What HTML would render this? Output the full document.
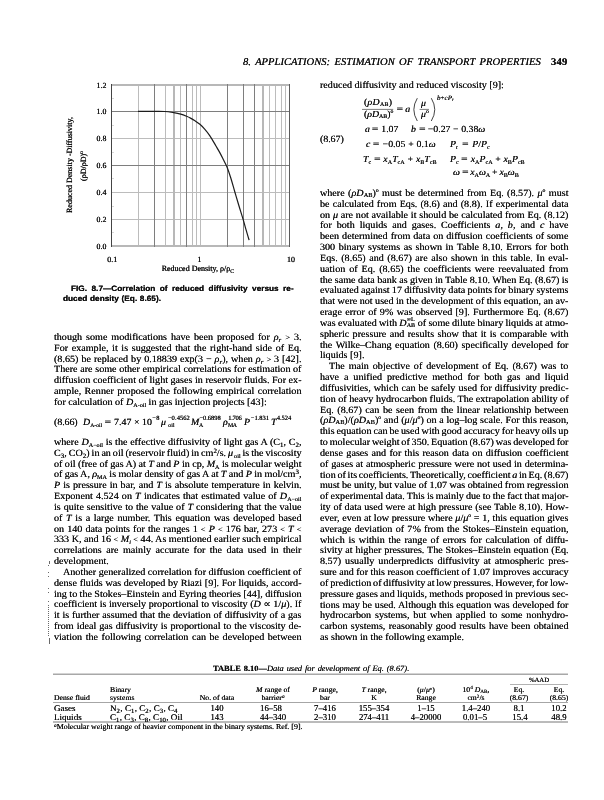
<!DOCTYPE html>
<html lang="en"><head><meta charset="utf-8"><title>Estimation of Transport Properties — page 349</title>
<style>
html,body{margin:0;padding:0;background:#fff;}
body{width:604px;height:800px;position:relative;overflow:hidden;color:#111;text-rendering:geometricPrecision;}
.l{position:absolute;white-space:nowrap;line-height:14px;height:14px;transform-origin:0 0;text-shadow:0 0 0 #111;}
.f{font-family:"Liberation Serif",serif;}
.a{font-family:"Liberation Sans",sans-serif;}
.v{position:absolute;white-space:nowrap;font-size:8px;line-height:10px;height:10px;-webkit-text-stroke:0.1px;text-shadow:0 0 0 #111;transform:translate(-50%,-50%) rotate(-90deg);}
.k{display:inline-block;position:relative;height:0;}
.k span{position:absolute;left:0;line-height:1;font-style:normal;-webkit-text-stroke:0.05px;}
.r{position:relative;line-height:0;-webkit-text-stroke:0.05px;}
.q{display:inline-block;transform:scaleX(1.2);margin:0 0.5px;}
</style></head><body>
<svg width="604" height="800" viewBox="0 0 604 800" style="position:absolute;left:0;top:0">
<g shape-rendering="crispEdges">
<rect x="111" y="138" width="179" height="1" fill="#bcbcbc"/>
<rect x="111" y="192" width="179" height="1" fill="#bcbcbc"/>
<rect x="111" y="219" width="179" height="1" fill="#bcbcbc"/>
<rect x="138" y="84" width="1" height="163" fill="#bcbcbc"/>
<rect x="165" y="84" width="1" height="163" fill="#bcbcbc"/>
<rect x="180" y="84" width="1" height="163" fill="#bcbcbc"/>
<rect x="192" y="84" width="1" height="163" fill="#bcbcbc"/>
<rect x="196" y="84" width="1" height="163" fill="#bcbcbc"/>
<rect x="200" y="84" width="1" height="163" fill="#bcbcbc"/>
<rect x="269" y="84" width="1" height="163" fill="#bcbcbc"/>
<rect x="275" y="84" width="1" height="163" fill="#bcbcbc"/>
<rect x="281" y="84" width="1" height="163" fill="#bcbcbc"/>
<rect x="285" y="84" width="1" height="163" fill="#bcbcbc"/>
<rect x="111" y="84" width="179" height="2" fill="#b8b8b8"/>
<rect x="111" y="245" width="179" height="2" fill="#b8b8b8"/>
<rect x="173" y="84" width="2" height="163" fill="#b8b8b8"/>
<rect x="262" y="84" width="2" height="163" fill="#b8b8b8"/>
<rect x="111" y="111" width="179" height="1" fill="#7e7e7e"/>
<rect x="111" y="165" width="179" height="1" fill="#7e7e7e"/>
<rect x="154" y="84" width="1" height="163" fill="#7e7e7e"/>
<rect x="186" y="84" width="1" height="163" fill="#7e7e7e"/>
<rect x="227" y="84" width="1" height="163" fill="#7e7e7e"/>
<rect x="243" y="84" width="1" height="163" fill="#7e7e7e"/>
<rect x="254" y="84" width="1" height="163" fill="#7e7e7e"/>
<rect x="289" y="84" width="1" height="163" fill="#5c5c5c"/>
<rect x="111" y="84" width="1" height="163" fill="#444"/>
<rect x="112" y="98" width="2" height="1" fill="#d8d8d8"/>
<rect x="112" y="125" width="2" height="1" fill="#d8d8d8"/>
<rect x="112" y="152" width="2" height="1" fill="#d8d8d8"/>
<rect x="112" y="178" width="2" height="1" fill="#d8d8d8"/>
<rect x="112" y="206" width="2" height="1" fill="#d8d8d8"/>
<rect x="112" y="232" width="2" height="1" fill="#d8d8d8"/>
</g>
<path d="M138 111.4C140.33 111.40 147.53 111.38 152 111.4C156.47 111.42 161.18 111.28 164.8 111.5C168.42 111.72 171.05 112.25 173.7 112.7C176.35 113.15 178.55 113.60 180.7 114.2C182.85 114.80 184.97 115.65 186.6 116.3C188.23 116.95 189.10 117.35 190.5 118.1C191.90 118.85 193.43 119.77 195 120.8C196.57 121.83 198.25 122.88 199.9 124.3C201.55 125.72 203.23 127.38 204.9 129.3C206.57 131.22 208.08 133.07 209.9 135.8C211.72 138.53 214.15 142.90 215.8 145.7C217.45 148.50 218.50 150.20 219.8 152.6C221.10 155.00 222.42 157.73 223.6 160.1C224.78 162.47 225.70 163.82 226.9 166.8C228.10 169.78 229.50 173.88 230.8 178C232.10 182.12 233.38 187.00 234.7 191.5C236.02 196.00 237.28 200.32 238.7 205C240.12 209.68 241.98 215.48 243.2 219.6C244.42 223.72 245.02 226.28 246 229.7C246.98 233.12 248.58 238.37 249.1 240.1" fill="none" stroke="#1c1c1c" stroke-width="1.2" stroke-linecap="butt"/>
<path d="M362 109.4H393.2M419.6 109.4H429" stroke="#222" stroke-width="0.6" fill="none"/>
<path d="M417.3 98.2Q410.4 109.6 417.3 121M431.3 98.2Q438.2 109.6 431.3 121" stroke="#222" stroke-width="0.85" fill="none"/>
<path d="M53 674.3H568" stroke="#a8a8a8" stroke-width="1.5" fill="none"/>
<path d="M53 702.5H568" stroke="#808080" stroke-width="0.7" fill="none"/>
<path d="M510 684.5H568" stroke="#909090" stroke-width="0.7" fill="none"/>
<path d="M53 722.0H568" stroke="#777" stroke-width="1" fill="none"/>
<g shape-rendering="crispEdges" fill="#6a6a6a"><rect x="49" y="561" width="1" height="3"/><rect x="49" y="638" width="1" height="6"/><rect x="48" y="565" width="1" height="1"/><rect x="48" y="572" width="1" height="1"/><rect x="48" y="576" width="1" height="1"/><rect x="48" y="588" width="1" height="1"/><rect x="48" y="592" width="1" height="1"/><rect x="48" y="601" width="1" height="1"/><rect x="48" y="605" width="1" height="1"/><rect x="48" y="607" width="1" height="1"/><rect x="48" y="609" width="1" height="1"/><rect x="48" y="611" width="1" height="1"/><rect x="48" y="613" width="1" height="1"/><rect x="48" y="615" width="1" height="1"/><rect x="48" y="617" width="1" height="1"/><rect x="48" y="619" width="1" height="1"/><rect x="48" y="621" width="1" height="1"/><rect x="48" y="623" width="1" height="1"/><rect x="48" y="625" width="1" height="1"/><rect x="48" y="627" width="1" height="1"/><rect x="48" y="629" width="1" height="1"/><rect x="48" y="631" width="1" height="1"/><rect x="48" y="633" width="1" height="1"/><rect x="48" y="635" width="1" height="1"/></g>
</svg>
<div class="l f" style="left:243.30px;top:56.00px;font-size:10.4px;word-spacing:1.685px;-webkit-text-stroke:0.05px;transform:scaleX(1.02);"><i>8. APPLICATIONS: ESTIMATION OF TRANSPORT PROPERTIES</i></div>
<div class="l f" style="left:551.00px;top:56.00px;font-size:10.4px;letter-spacing:0.194px;transform:scaleX(1.02);"><b>349</b></div>
<div class="l f" style="left:54.25px;top:331.00px;font-size:9.6px;word-spacing:1.318px;transform:scaleX(1.055);">though some modifications have been proposed for <i>ρ</i><span class="r" style="font-size:6.6px;top:1.6px;font-style:italic;">r</span> <span style="font-size:8px">&gt;</span> 3.</div>
<div class="l f" style="left:54.25px;top:342.00px;font-size:9.6px;word-spacing:1.025px;transform:scaleX(1.055);">For example, it is suggested that the right-hand side of Eq.</div>
<div class="l f" style="left:54.25px;top:353.00px;font-size:9.6px;word-spacing:0.383px;transform:scaleX(1.055);">(8.65) be replaced by 0.18839 exp(3 − <i>ρ</i><span class="r" style="font-size:6.6px;top:1.6px;font-style:italic;">r</span>), when <i>ρ</i><span class="r" style="font-size:6.6px;top:1.6px;font-style:italic;">r</span> <span style="font-size:8px">&gt;</span> 3 [42].</div>
<div class="l f" style="left:54.25px;top:363.00px;font-size:9.6px;word-spacing:0.088px;transform:scaleX(1.055);">There are some other empirical correlations for estimation of</div>
<div class="l f" style="left:54.25px;top:374.00px;font-size:9.6px;word-spacing:-0.005px;transform:scaleX(1.055);">diffusion coefficient of light gases in reservoir fluids. For ex-</div>
<div class="l f" style="left:54.25px;top:385.00px;font-size:9.6px;word-spacing:0.779px;transform:scaleX(1.055);">ample, Renner proposed the following empirical correlation</div>
<div class="l f" style="left:54.25px;top:396.00px;font-size:9.6px;word-spacing:-0.099px;transform:scaleX(1.055);">for calculation of <i>D</i><span class="r" style="font-size:5.8px;top:2.0px;font-style:normal;">A-oil</span> in gas injection projects [43]:</div>
<div class="l f" style="left:54.25px;top:416.00px;font-size:9.6px;letter-spacing:-0.136px;transform:scaleX(1.055);">(8.66)</div>
<div class="l f" style="left:83.10px;top:416.00px;font-size:9.4px;word-spacing:0.120px;transform:scaleX(1.055);"><i>D</i><span class="r" style="font-size:5.4px;top:2.0px;font-style:normal;">A-oil</span> <span class="q">=</span> 7.47 × 10</div>
<div class="l f" style="left:152.30px;top:412.00px;font-size:6.5px;letter-spacing:0.339px;-webkit-text-stroke:0.05px;">−8</div>
<div class="l f" style="left:161.00px;top:416.00px;font-size:9.4px;transform:scaleX(1.055);"><i>μ</i></div>
<div class="l f" style="left:167.90px;top:412.00px;font-size:6.5px;letter-spacing:0.065px;-webkit-text-stroke:0.05px;">−0.4562</div>
<div class="l f" style="left:168.20px;top:419.00px;font-size:5.8px;letter-spacing:0.092px;-webkit-text-stroke:0.05px;">oil</div>
<div class="l f" style="left:190.60px;top:416.00px;font-size:9.4px;transform:scaleX(1.055);"><i>M</i></div>
<div class="l f" style="left:199.40px;top:412.00px;font-size:6.5px;letter-spacing:-0.05px;-webkit-text-stroke:0.05px;">−0.6898</div>
<div class="l f" style="left:199.00px;top:419.00px;font-size:5.8px;-webkit-text-stroke:0.05px;">A</div>
<div class="l f" style="left:223.40px;top:416.00px;font-size:9.4px;transform:scaleX(1.055);"><i>ρ</i></div>
<div class="l f" style="left:228.20px;top:412.00px;font-size:6.5px;letter-spacing:-0.245px;-webkit-text-stroke:0.05px;">1.706</div>
<div class="l f" style="left:228.00px;top:419.00px;font-size:5.8px;letter-spacing:-0.472px;-webkit-text-stroke:0.05px;">MA</div>
<div class="l f" style="left:243.80px;top:416.00px;font-size:9.4px;transform:scaleX(1.055);"><i>P</i></div>
<div class="l f" style="left:250.80px;top:412.00px;font-size:6.5px;letter-spacing:-0.016px;-webkit-text-stroke:0.05px;">−1.831</div>
<div class="l f" style="left:271.00px;top:416.00px;font-size:9.4px;transform:scaleX(1.055);"><i>T</i></div>
<div class="l f" style="left:276.80px;top:412.00px;font-size:6.5px;letter-spacing:-0.065px;-webkit-text-stroke:0.05px;">4.524</div>
<div class="l f" style="left:54.25px;top:436.00px;font-size:9.6px;word-spacing:0.120px;transform:scaleX(1.055);">where <i>D</i><span class="r" style="font-size:5.8px;top:2.0px;font-style:normal;">A−oil</span> is the effective diffusivity of light gas A (C<span class="r" style="font-size:6.6px;top:2.0px;font-style:normal;">1</span>, C<span class="r" style="font-size:6.6px;top:2.0px;font-style:normal;">2</span>,</div>
<div class="l f" style="left:54.25px;top:447.00px;font-size:9.6px;word-spacing:-0.561px;transform:scaleX(1.055);">C<span class="r" style="font-size:6.6px;top:2.0px;font-style:normal;">3</span>, CO<span class="r" style="font-size:6.6px;top:2.0px;font-style:normal;">2</span>) in an oil (reservoir fluid) in cm<span class="r" style="font-size:6.6px;top:-3.4px;font-style:normal;">2</span>/s. <i>μ</i><span class="r" style="font-size:5.8px;top:1.6px;font-style:normal;"> oil</span> is the viscosity</div>
<div class="l f" style="left:54.25px;top:458.00px;font-size:9.6px;word-spacing:-0.131px;transform:scaleX(1.055);">of oil (free of gas A) at <i>T</i> and <i>P</i> in cp, <i>M</i><span class="r" style="font-size:5.8px;top:1.6px;font-style:normal;">A</span> is molecular weight</div>
<div class="l f" style="left:54.25px;top:468.00px;font-size:9.6px;word-spacing:-0.170px;transform:scaleX(1.055);">of gas A, <i>ρ</i><span class="r" style="font-size:5.8px;top:1.6px;font-style:normal;">MA</span> is molar density of gas A at <i>T</i> and <i>P</i> in mol/cm<span class="r" style="font-size:6.6px;top:-3.4px;font-style:normal;">3</span>,</div>
<div class="l f" style="left:54.25px;top:479.00px;font-size:9.6px;word-spacing:0.456px;transform:scaleX(1.055);"><i>P</i> is pressure in bar, and <i>T</i> is absolute temperature in kelvin.</div>
<div class="l f" style="left:54.25px;top:490.00px;font-size:9.6px;word-spacing:0.575px;transform:scaleX(1.055);">Exponent 4.524 on <i>T</i> indicates that estimated value of <i>D</i><span class="r" style="font-size:5.8px;top:2.0px;font-style:normal;">A−oil</span></div>
<div class="l f" style="left:54.25px;top:501.00px;font-size:9.6px;word-spacing:0.372px;transform:scaleX(1.055);">is quite sensitive to the value of <i>T</i> considering that the value</div>
<div class="l f" style="left:54.25px;top:512.00px;font-size:9.6px;word-spacing:1.033px;transform:scaleX(1.055);">of <i>T</i> is a large number. This equation was developed based</div>
<div class="l f" style="left:54.25px;top:523.00px;font-size:9.6px;word-spacing:0.481px;transform:scaleX(1.055);">on 140 data points for the ranges 1 <span style="font-size:8px">&lt;</span> <i>P</i> <span style="font-size:8px">&lt;</span> 176 bar, 273 <span style="font-size:8px">&lt;</span> <i>T</i> <span style="font-size:8px">&lt;</span></div>
<div class="l f" style="left:54.25px;top:533.00px;font-size:9.6px;word-spacing:-0.080px;transform:scaleX(1.055);">333 K, and 16 <span style="font-size:8px">&lt;</span> <i>M</i><span class="r" style="font-size:5.8px;top:1.6px;font-style:italic;">i</span> <span style="font-size:8px">&lt;</span> 44. As mentioned earlier such empirical</div>
<div class="l f" style="left:54.25px;top:544.00px;font-size:9.6px;word-spacing:1.766px;transform:scaleX(1.055);">correlations are mainly accurate for the data used in their</div>
<div class="l f" style="left:54.25px;top:555.00px;font-size:9.6px;transform:scaleX(1.055);">development.</div>
<div class="l f" style="left:63.25px;top:566.00px;font-size:9.6px;word-spacing:-0.002px;transform:scaleX(1.055);">Another generalized correlation for diffusion coefficient of</div>
<div class="l f" style="left:54.25px;top:577.00px;font-size:9.6px;word-spacing:0.105px;transform:scaleX(1.055);">dense fluids was developed by Riazi [9]. For liquids, accord-</div>
<div class="l f" style="left:54.25px;top:588.00px;font-size:9.6px;word-spacing:-0.130px;transform:scaleX(1.055);">ing to the Stokes–Einstein and Eyring theories [44], diffusion</div>
<div class="l f" style="left:54.25px;top:598.00px;font-size:9.6px;word-spacing:0.035px;transform:scaleX(1.055);">coefficient is inversely proportional to viscosity (<i>D</i> ∝ 1/<i>μ</i>). If</div>
<div class="l f" style="left:54.25px;top:609.00px;font-size:9.6px;word-spacing:0.246px;transform:scaleX(1.055);">it is further assumed that the deviation of diffusivity of a gas</div>
<div class="l f" style="left:54.25px;top:620.00px;font-size:9.6px;word-spacing:0.417px;transform:scaleX(1.055);">from ideal gas diffusivity is proportional to the viscosity de-</div>
<div class="l f" style="left:54.25px;top:631.00px;font-size:9.6px;word-spacing:0.974px;transform:scaleX(1.055);">viation the following correlation can be developed between</div>
<div class="l f" style="left:319.50px;top:79.00px;font-size:9.6px;word-spacing:-0.003px;transform:scaleX(1.055);">reduced diffusivity and reduced viscosity [9]:</div>
<div class="l f" style="left:319.50px;top:187.00px;font-size:9.6px;word-spacing:0.788px;transform:scaleX(1.055);">where (<i>ρ</i><i>D</i><span class="r" style="font-size:6.0px;top:1.2px;font-style:normal;">AB</span>)<span class="r" style="font-size:5.5px;top:-3.6px;font-style:normal;">o</span> must be determined from Eq. (8.57). <i>μ</i><span class="r" style="font-size:5.5px;top:-3.6px;font-style:normal;">o</span> must</div>
<div class="l f" style="left:319.50px;top:198.00px;font-size:9.6px;word-spacing:0.569px;transform:scaleX(1.055);">be calculated from Eqs. (8.6) and (8.8). If experimental data</div>
<div class="l f" style="left:319.50px;top:209.00px;font-size:9.6px;word-spacing:0.217px;transform:scaleX(1.055);">on <i>μ</i> are not available it should be calculated from Eq. (8.12)</div>
<div class="l f" style="left:319.50px;top:219.00px;font-size:9.6px;word-spacing:2.281px;transform:scaleX(1.055);">for both liquids and gases. Coefficients <i>a</i>, <i>b</i>, and <i>c</i> have</div>
<div class="l f" style="left:319.50px;top:230.00px;font-size:9.6px;word-spacing:0.447px;transform:scaleX(1.055);">been determined from data on diffusion coefficients of some</div>
<div class="l f" style="left:319.50px;top:241.00px;font-size:9.6px;word-spacing:0.936px;transform:scaleX(1.055);">300 binary systems as shown in Table 8.10. Errors for both</div>
<div class="l f" style="left:319.50px;top:252.00px;font-size:9.6px;word-spacing:0.946px;transform:scaleX(1.055);">Eqs. (8.65) and (8.67) are also shown in this table. In eval-</div>
<div class="l f" style="left:319.50px;top:263.00px;font-size:9.6px;word-spacing:1.295px;transform:scaleX(1.055);">uation of Eq. (8.65) the coefficients were reevaluated from</div>
<div class="l f" style="left:319.50px;top:274.00px;font-size:9.6px;word-spacing:-0.136px;transform:scaleX(1.055);">the same data bank as given in Table 8.10. When Eq. (8.67) is</div>
<div class="l f" style="left:319.50px;top:284.00px;font-size:9.6px;word-spacing:-0.311px;transform:scaleX(1.055);">evaluated against 17 diffusivity data points for binary systems</div>
<div class="l f" style="left:319.50px;top:295.00px;font-size:9.6px;word-spacing:-0.095px;transform:scaleX(1.055);">that were not used in the development of this equation, an av-</div>
<div class="l f" style="left:319.50px;top:306.00px;font-size:9.6px;word-spacing:0.715px;transform:scaleX(1.055);">erage error of 9% was observed [9]. Furthermore Eq. (8.67)</div>
<div class="l f" style="left:319.50px;top:317.00px;font-size:9.6px;word-spacing:-0.253px;transform:scaleX(1.055);">was evaluated with <i>D</i><span class="k" style="width:8.4px"><span style="font-size:5.8px;top:-7.57px">∞L</span><span style="font-size:5.8px;top:-1.57px">AB</span></span> of some dilute binary liquids at atmo-</div>
<div class="l f" style="left:319.50px;top:328.00px;font-size:9.6px;word-spacing:0.800px;transform:scaleX(1.055);">spheric pressure and results show that it is comparable with</div>
<div class="l f" style="left:319.50px;top:339.00px;font-size:9.6px;word-spacing:0.942px;transform:scaleX(1.055);">the Wilke–Chang equation (8.60) specifically developed for</div>
<div class="l f" style="left:319.50px;top:349.00px;font-size:9.6px;transform:scaleX(1.055);">liquids [9].</div>
<div class="l f" style="left:328.70px;top:360.00px;font-size:9.6px;word-spacing:1.314px;transform:scaleX(1.055);">The main objective of development of Eq. (8.67) was to</div>
<div class="l f" style="left:319.50px;top:371.00px;font-size:9.6px;word-spacing:2.222px;transform:scaleX(1.055);">have a unified predictive method for both gas and liquid</div>
<div class="l f" style="left:319.50px;top:382.00px;font-size:9.6px;word-spacing:0.480px;transform:scaleX(1.055);">diffusivities, which can be safely used for diffusivity predic-</div>
<div class="l f" style="left:319.50px;top:393.00px;font-size:9.6px;word-spacing:-0.008px;transform:scaleX(1.055);">tion of heavy hydrocarbon fluids. The extrapolation ability of</div>
<div class="l f" style="left:319.50px;top:404.00px;font-size:9.6px;word-spacing:0.982px;transform:scaleX(1.055);">Eq. (8.67) can be seen from the linear relationship between</div>
<div class="l f" style="left:319.50px;top:414.00px;font-size:9.6px;word-spacing:0.140px;transform:scaleX(1.055);">(<i>ρ</i><i>D</i><span class="r" style="font-size:6.0px;top:1.2px;font-style:normal;">AB</span>)/(<i>ρ</i><i>D</i><span class="r" style="font-size:6.0px;top:1.2px;font-style:normal;">AB</span>)<span class="r" style="font-size:5.5px;top:-3.6px;font-style:normal;">o</span> and (<i>μ</i>/<i>μ</i><span class="r" style="font-size:5.5px;top:-3.6px;font-style:normal;">o</span>) on a log–log scale. For this reason,</div>
<div class="l f" style="left:319.50px;top:425.00px;font-size:9.6px;word-spacing:-0.506px;transform:scaleX(1.055);">this equation can be used with good accuracy for heavy oils up</div>
<div class="l f" style="left:319.50px;top:436.00px;font-size:9.6px;word-spacing:-0.679px;transform:scaleX(1.055);">to molecular weight of 350. Equation (8.67) was developed for</div>
<div class="l f" style="left:319.50px;top:447.00px;font-size:9.6px;word-spacing:0.724px;transform:scaleX(1.055);">dense gases and for this reason data on diffusion coefficient</div>
<div class="l f" style="left:319.50px;top:458.00px;font-size:9.6px;word-spacing:0.212px;transform:scaleX(1.055);">of gases at atmospheric pressure were not used in determina-</div>
<div class="l f" style="left:319.50px;top:469.00px;font-size:9.6px;word-spacing:-0.788px;transform:scaleX(1.055);">tion of its coefficients. Theoretically, coefficient <i>a</i> in Eq. (8.67)</div>
<div class="l f" style="left:319.50px;top:479.00px;font-size:9.6px;word-spacing:-0.150px;transform:scaleX(1.055);">must be unity, but value of 1.07 was obtained from regression</div>
<div class="l f" style="left:319.50px;top:490.00px;font-size:9.6px;word-spacing:-0.399px;transform:scaleX(1.055);">of experimental data. This is mainly due to the fact that major-</div>
<div class="l f" style="left:319.50px;top:501.00px;font-size:9.6px;word-spacing:0.202px;transform:scaleX(1.055);">ity of data used were at high pressure (see Table 8.10). How-</div>
<div class="l f" style="left:319.50px;top:512.00px;font-size:9.6px;word-spacing:0.088px;transform:scaleX(1.055);">ever, even at low pressure where <i>μ</i>/<i>μ</i><span class="r" style="font-size:5.5px;top:-3.6px;font-style:normal;">o</span> = 1, this equation gives</div>
<div class="l f" style="left:319.50px;top:523.00px;font-size:9.6px;word-spacing:0.689px;transform:scaleX(1.055);">average deviation of 7% from the Stokes–Einstein equation,</div>
<div class="l f" style="left:319.50px;top:534.00px;font-size:9.6px;word-spacing:1.087px;transform:scaleX(1.055);">which is within the range of errors for calculation of diffu-</div>
<div class="l f" style="left:319.50px;top:544.00px;font-size:9.6px;word-spacing:0.292px;transform:scaleX(1.055);">sivity at higher pressures. The Stokes–Einstein equation (Eq.</div>
<div class="l f" style="left:319.50px;top:555.00px;font-size:9.6px;word-spacing:1.409px;transform:scaleX(1.055);">8.57) usually underpredicts diffusivity at atmospheric pres-</div>
<div class="l f" style="left:319.50px;top:566.00px;font-size:9.6px;word-spacing:-0.153px;transform:scaleX(1.055);">sure and for this reason coefficient of 1.07 improves accuracy</div>
<div class="l f" style="left:319.50px;top:577.00px;font-size:9.6px;word-spacing:-0.676px;transform:scaleX(1.055);">of prediction of diffusivity at low pressures. However, for low-</div>
<div class="l f" style="left:319.50px;top:588.00px;font-size:9.6px;word-spacing:-0.299px;transform:scaleX(1.055);">pressure gases and liquids, methods proposed in previous sec-</div>
<div class="l f" style="left:319.50px;top:599.00px;font-size:9.6px;word-spacing:0.177px;transform:scaleX(1.055);">tions may be used. Although this equation was developed for</div>
<div class="l f" style="left:319.50px;top:609.00px;font-size:9.6px;word-spacing:1.218px;transform:scaleX(1.055);">hydrocarbon systems, but when applied to some nonhydro-</div>
<div class="l f" style="left:319.50px;top:620.00px;font-size:9.6px;word-spacing:0.689px;transform:scaleX(1.055);">carbon systems, reasonably good results have been obtained</div>
<div class="l f" style="left:319.50px;top:631.00px;font-size:9.6px;word-spacing:0.033px;transform:scaleX(1.055);">as shown in the following example.</div>
<div class="l f" style="left:363.60px;top:96.00px;font-size:9.3px;letter-spacing:0.273px;transform:scaleX(1.055);">(<i>ρ</i><i>D</i><span class="r" style="font-size:5.6px;top:1.3px;font-style:normal;">AB</span>)</div>
<div class="l f" style="left:363.60px;top:108.00px;font-size:9.3px;letter-spacing:0.004px;transform:scaleX(1.055);">(<i>ρ</i><i>D</i><span class="r" style="font-size:5.6px;top:1.3px;font-style:normal;">AB</span>)<span class="r" style="font-size:5.5px;top:-3.6px;font-style:normal;">o</span></div>
<div class="l f" style="left:395.80px;top:103.00px;font-size:9.3px;word-spacing:0.225px;transform:scaleX(1.055);"><span class="q">=</span> <i>a</i></div>
<div class="l f" style="left:420.90px;top:97.00px;font-size:9.3px;transform:scaleX(1.055);"><i>μ</i></div>
<div class="l f" style="left:420.50px;top:108.00px;font-size:9.3px;letter-spacing:0.081px;transform:scaleX(1.055);"><i>μ</i><span class="r" style="font-size:5.5px;top:-3.6px;font-style:normal;">o</span></div>
<div class="l f" style="left:436.60px;top:92.00px;font-size:6.7px;letter-spacing:0.01px;transform:scaleX(1.055);"><i>b</i>+<i>cP</i><span class="r" style="font-size:4.8px;top:1.2px;font-style:italic;">r</span></div>
<div class="l f" style="left:365.20px;top:123.00px;font-size:9.3px;word-spacing:-0.085px;transform:scaleX(1.055);"><i>a</i> <span class="q">=</span> 1.07</div>
<div class="l f" style="left:411.30px;top:123.00px;font-size:9.3px;word-spacing:0.154px;transform:scaleX(1.055);"><i>b</i> <span class="q">=</span> −0.27 − 0.38<i>ω</i></div>
<div class="l f" style="left:319.50px;top:133.00px;font-size:9.6px;letter-spacing:-0.121px;transform:scaleX(1.055);">(8.67)</div>
<div class="l f" style="left:366.20px;top:138.00px;font-size:9.3px;word-spacing:0.353px;transform:scaleX(1.055);"><i>c</i> <span class="q">=</span> −0.05 + 0.1<i>ω</i></div>
<div class="l f" style="left:450.20px;top:138.00px;font-size:9.3px;word-spacing:1.323px;transform:scaleX(1.055);"><i>P</i><span class="r" style="font-size:5.8px;top:1.6px;font-style:normal;">r</span> <span class="q">=</span> <i>P</i>/<i>P</i><span class="r" style="font-size:5.8px;top:1.6px;font-style:normal;">c</span></div>
<div class="l f" style="left:362.65px;top:153.00px;font-size:9.3px;word-spacing:0.324px;transform:scaleX(1.055);"><i>T</i><span class="r" style="font-size:5.8px;top:1.6px;font-style:normal;">c</span> <span class="q">=</span> <i>x</i><span class="r" style="font-size:5.8px;top:1.6px;font-style:normal;">A</span><i>T</i><span class="r" style="font-size:5.8px;top:1.6px;font-style:normal;">cA</span> + <i>x</i><span class="r" style="font-size:5.8px;top:1.6px;font-style:normal;">B</span><i>T</i><span class="r" style="font-size:5.8px;top:1.6px;font-style:normal;">cB</span></div>
<div class="l f" style="left:450.20px;top:153.00px;font-size:9.3px;word-spacing:0.198px;transform:scaleX(1.055);"><i>P</i><span class="r" style="font-size:5.8px;top:1.6px;font-style:normal;">c</span> <span class="q">=</span> <i>x</i><span class="r" style="font-size:5.8px;top:1.6px;font-style:normal;">A</span><i>P</i><span class="r" style="font-size:5.8px;top:1.6px;font-style:normal;">cA</span> + <i>x</i><span class="r" style="font-size:5.8px;top:1.6px;font-style:normal;">B</span><i>P</i><span class="r" style="font-size:5.8px;top:1.6px;font-style:normal;">cB</span></div>
<div class="l f" style="left:452.80px;top:166.00px;font-size:9.3px;word-spacing:-0.622px;transform:scaleX(1.055);"><i>ω</i> <span class="q">=</span> <i>x</i><span class="r" style="font-size:5.8px;top:1.6px;font-style:normal;">A</span><i>ω</i><span class="r" style="font-size:5.8px;top:1.6px;font-style:normal;">A</span> + <i>x</i><span class="r" style="font-size:5.8px;top:1.6px;font-style:normal;">B</span><i>ω</i><span class="r" style="font-size:5.8px;top:1.6px;font-style:normal;">B</span></div>
<div class="l f" style="left:106.40px;top:79.00px;font-size:7.9px;-webkit-text-stroke:0.1px;transform-origin:100% 0;transform:translateX(-100%) scaleX(1.0);">1.2</div>
<div class="l f" style="left:106.40px;top:105.00px;font-size:7.9px;-webkit-text-stroke:0.1px;transform-origin:100% 0;transform:translateX(-100%) scaleX(1.0);">1.0</div>
<div class="l f" style="left:106.40px;top:132.00px;font-size:7.9px;-webkit-text-stroke:0.1px;transform-origin:100% 0;transform:translateX(-100%) scaleX(1.0);">0.8</div>
<div class="l f" style="left:106.40px;top:159.00px;font-size:7.9px;-webkit-text-stroke:0.1px;transform-origin:100% 0;transform:translateX(-100%) scaleX(1.0);">0.6</div>
<div class="l f" style="left:106.40px;top:186.00px;font-size:7.9px;-webkit-text-stroke:0.1px;transform-origin:100% 0;transform:translateX(-100%) scaleX(1.0);">0.4</div>
<div class="l f" style="left:106.40px;top:213.00px;font-size:7.9px;-webkit-text-stroke:0.1px;transform-origin:100% 0;transform:translateX(-100%) scaleX(1.0);">0.2</div>
<div class="l f" style="left:106.40px;top:240.00px;font-size:7.9px;-webkit-text-stroke:0.1px;transform-origin:100% 0;transform:translateX(-100%) scaleX(1.0);">0.0</div>
<div class="l f" style="left:112.30px;top:253.00px;font-size:7.9px;-webkit-text-stroke:0.1px;transform-origin:50% 0;transform:translateX(-50%) scaleX(1.0);">0.1</div>
<div class="l f" style="left:199.60px;top:253.00px;font-size:7.9px;-webkit-text-stroke:0.1px;transform-origin:50% 0;transform:translateX(-50%) scaleX(1.0);">1</div>
<div class="l f" style="left:291.00px;top:253.00px;font-size:7.9px;-webkit-text-stroke:0.1px;transform-origin:50% 0;transform:translateX(-50%) scaleX(1.0);">10</div>
<div class="l f" style="left:197.90px;top:262.00px;font-size:8.0px;-webkit-text-stroke:0.1px;transform-origin:50% 0;transform:translateX(-50%) scaleX(1.0);">Reduced Density, ρ/ρ<span class="r" style="font-size:5.8px;top:1.8px;font-style:normal;">C</span></div>
<div class="l a" style="left:71.10px;top:282.00px;font-size:7.8px;word-spacing:2.013px;-webkit-text-stroke:0.05px;transform:scaleX(1.06);"><b>FIG. 8.7—Correlation of reduced diffusivity versus re-</b></div>
<div class="l a" style="left:62.50px;top:292.00px;font-size:7.8px;word-spacing:0.344px;-webkit-text-stroke:0.05px;transform:scaleX(1.06);"><b>duced density (Eq. 8.65).</b></div>
<div class="l f" style="left:213.00px;top:662.00px;font-size:8.1px;word-spacing:0.739px;transform:scaleX(1.04);"><b>TABLE 8.10—</b><i>Data used for development of Eq. (8.67).</i></div>
<div class="l f" style="left:53.75px;top:691.00px;font-size:7.3px;word-spacing:0.043px;-webkit-text-stroke:0.05px;transform:scaleX(1.055);">Dense fluid</div>
<div class="l f" style="left:110.00px;top:683.00px;font-size:7.3px;-webkit-text-stroke:0.05px;transform:scaleX(1.055);">Binary</div>
<div class="l f" style="left:110.00px;top:691.00px;font-size:7.3px;-webkit-text-stroke:0.05px;transform:scaleX(1.055);">systems</div>
<div class="l f" style="left:217.00px;top:691.00px;font-size:7.3px;-webkit-text-stroke:0.05px;transform-origin:50% 0;transform:translateX(-50%) scaleX(1.055);">No. of data</div>
<div class="l f" style="left:273.25px;top:683.00px;font-size:7.3px;-webkit-text-stroke:0.05px;transform-origin:50% 0;transform:translateX(-50%) scaleX(1.055);"><i>M</i> range of</div>
<div class="l f" style="left:273.25px;top:691.00px;font-size:7.3px;-webkit-text-stroke:0.05px;transform-origin:50% 0;transform:translateX(-50%) scaleX(1.055);">barrier<span class="r" style="font-size:5px;top:-2.4px;font-style:italic;">a</span></div>
<div class="l f" style="left:325.00px;top:683.00px;font-size:7.3px;-webkit-text-stroke:0.05px;transform-origin:50% 0;transform:translateX(-50%) scaleX(1.055);"><i>P</i> range,</div>
<div class="l f" style="left:325.00px;top:691.00px;font-size:7.3px;-webkit-text-stroke:0.05px;transform-origin:50% 0;transform:translateX(-50%) scaleX(1.055);">bar</div>
<div class="l f" style="left:373.75px;top:683.00px;font-size:7.3px;-webkit-text-stroke:0.05px;transform-origin:50% 0;transform:translateX(-50%) scaleX(1.055);"><i>T</i> range,</div>
<div class="l f" style="left:373.75px;top:691.00px;font-size:7.3px;-webkit-text-stroke:0.05px;transform-origin:50% 0;transform:translateX(-50%) scaleX(1.055);">K</div>
<div class="l f" style="left:425.75px;top:683.00px;font-size:7.3px;-webkit-text-stroke:0.05px;transform-origin:50% 0;transform:translateX(-50%) scaleX(1.055);">(<i>μ</i>/<i>μ</i><span class="r" style="font-size:4.5px;top:-2.4px;font-style:normal;">o</span>)</div>
<div class="l f" style="left:425.75px;top:691.00px;font-size:7.3px;-webkit-text-stroke:0.05px;transform-origin:50% 0;transform:translateX(-50%) scaleX(1.055);">Range</div>
<div class="l f" style="left:475.50px;top:683.00px;font-size:7.3px;-webkit-text-stroke:0.05px;transform-origin:50% 0;transform:translateX(-50%) scaleX(1.055);">10<span class="r" style="font-size:5px;top:-2.6px;font-style:normal;">4</span> <i>D</i><span class="r" style="font-size:5px;top:1.2px;font-style:normal;">AB</span>,</div>
<div class="l f" style="left:475.50px;top:691.00px;font-size:7.3px;-webkit-text-stroke:0.05px;transform-origin:50% 0;transform:translateX(-50%) scaleX(1.055);">cm<span class="r" style="font-size:5px;top:-2.4px;font-style:normal;">2</span>/s</div>
<div class="l f" style="left:538.75px;top:674.00px;font-size:6.4px;-webkit-text-stroke:0.05px;transform-origin:50% 0;transform:translateX(-50%) scaleX(1.055);">%AAD</div>
<div class="l f" style="left:519.25px;top:683.00px;font-size:7.3px;-webkit-text-stroke:0.05px;transform-origin:50% 0;transform:translateX(-50%) scaleX(1.055);">Eq.</div>
<div class="l f" style="left:519.25px;top:691.00px;font-size:7.3px;-webkit-text-stroke:0.05px;transform-origin:50% 0;transform:translateX(-50%) scaleX(1.055);">(8.67)</div>
<div class="l f" style="left:558.75px;top:683.00px;font-size:7.3px;-webkit-text-stroke:0.05px;transform-origin:50% 0;transform:translateX(-50%) scaleX(1.055);">Eq.</div>
<div class="l f" style="left:558.75px;top:691.00px;font-size:7.3px;-webkit-text-stroke:0.05px;transform-origin:50% 0;transform:translateX(-50%) scaleX(1.055);">(8.65)</div>
<div class="l f" style="left:53.50px;top:701.00px;font-size:8.6px;transform:scaleX(1.055);">Gases</div>
<div class="l f" style="left:110.00px;top:701.00px;font-size:8.6px;transform:scaleX(1.055);">N<span class="r" style="font-size:6.4px;top:1.5px;font-style:normal;margin-right:0.4px;">2</span>, C<span class="r" style="font-size:6.4px;top:1.5px;font-style:normal;margin-right:0.4px;">1</span>, C<span class="r" style="font-size:6.4px;top:1.5px;font-style:normal;margin-right:0.4px;">2</span>, C<span class="r" style="font-size:6.4px;top:1.5px;font-style:normal;margin-right:0.4px;">3</span>, C<span class="r" style="font-size:6.4px;top:1.5px;font-style:normal;margin-right:0.4px;">4</span></div>
<div class="l f" style="left:217.10px;top:701.00px;font-size:9.0px;transform-origin:50% 0;transform:translateX(-50%) scaleX(0.97);">140</div>
<div class="l f" style="left:271.00px;top:701.00px;font-size:9.0px;transform-origin:50% 0;transform:translateX(-50%) scaleX(0.97);">16–58</div>
<div class="l f" style="left:324.50px;top:701.00px;font-size:9.0px;transform-origin:50% 0;transform:translateX(-50%) scaleX(0.97);">7–416</div>
<div class="l f" style="left:374.25px;top:701.00px;font-size:9.0px;transform-origin:50% 0;transform:translateX(-50%) scaleX(0.97);">155–354</div>
<div class="l f" style="left:426.25px;top:701.00px;font-size:9.0px;transform-origin:50% 0;transform:translateX(-50%) scaleX(0.97);">1–15</div>
<div class="l f" style="left:475.50px;top:701.00px;font-size:9.0px;transform-origin:50% 0;transform:translateX(-50%) scaleX(0.97);">1.4–240</div>
<div class="l f" style="left:519.25px;top:701.00px;font-size:9.0px;transform-origin:50% 0;transform:translateX(-50%) scaleX(0.97);">8.1</div>
<div class="l f" style="left:558.75px;top:701.00px;font-size:9.0px;transform-origin:50% 0;transform:translateX(-50%) scaleX(0.97);">10.2</div>
<div class="l f" style="left:53.50px;top:710.00px;font-size:8.6px;transform:scaleX(1.055);">Liquids</div>
<div class="l f" style="left:110.00px;top:710.00px;font-size:8.6px;transform:scaleX(1.055);">C<span class="r" style="font-size:6.4px;top:1.5px;font-style:normal;margin-right:0.4px;">1</span>, C<span class="r" style="font-size:6.4px;top:1.5px;font-style:normal;margin-right:0.4px;">3</span>, C<span class="r" style="font-size:6.4px;top:1.5px;font-style:normal;margin-right:0.4px;">8</span>, C<span class="r" style="font-size:6.4px;top:1.5px;font-style:normal;margin-right:0.4px;">10</span>, Oil</div>
<div class="l f" style="left:217.10px;top:710.00px;font-size:9.0px;transform-origin:50% 0;transform:translateX(-50%) scaleX(0.97);">143</div>
<div class="l f" style="left:273.10px;top:710.00px;font-size:9.0px;transform-origin:50% 0;transform:translateX(-50%) scaleX(0.97);">44–340</div>
<div class="l f" style="left:324.50px;top:710.00px;font-size:9.0px;transform-origin:50% 0;transform:translateX(-50%) scaleX(0.97);">2–310</div>
<div class="l f" style="left:374.25px;top:710.00px;font-size:9.0px;transform-origin:50% 0;transform:translateX(-50%) scaleX(0.97);">274–411</div>
<div class="l f" style="left:425.75px;top:710.00px;font-size:9.0px;transform-origin:50% 0;transform:translateX(-50%) scaleX(0.97);">4–20000</div>
<div class="l f" style="left:475.00px;top:710.00px;font-size:9.0px;transform-origin:50% 0;transform:translateX(-50%) scaleX(0.97);">0.01–5</div>
<div class="l f" style="left:519.50px;top:710.00px;font-size:9.0px;transform-origin:50% 0;transform:translateX(-50%) scaleX(0.97);">15.4</div>
<div class="l f" style="left:558.75px;top:710.00px;font-size:9.0px;transform-origin:50% 0;transform:translateX(-50%) scaleX(0.97);">48.9</div>
<div class="l f" style="left:53.50px;top:720.00px;font-size:7.5px;word-spacing:-0.020px;-webkit-text-stroke:0.05px;transform:scaleX(1.055);"><span class="r" style="font-size:5px;top:-2.2px;font-style:italic;">a</span>Molecular weight range of heavier component in the binary systems. Ref. [9].</div>
<div class="f v" style="left:70.1px;top:165.3px;">Reduced Density -Diffusivity,</div>
<div class="f v" style="left:84.3px;top:165.5px;">(ρD/ρD)<span class="r" style="font-size:5.8px;top:-3px">o</span></div>
</body></html>
